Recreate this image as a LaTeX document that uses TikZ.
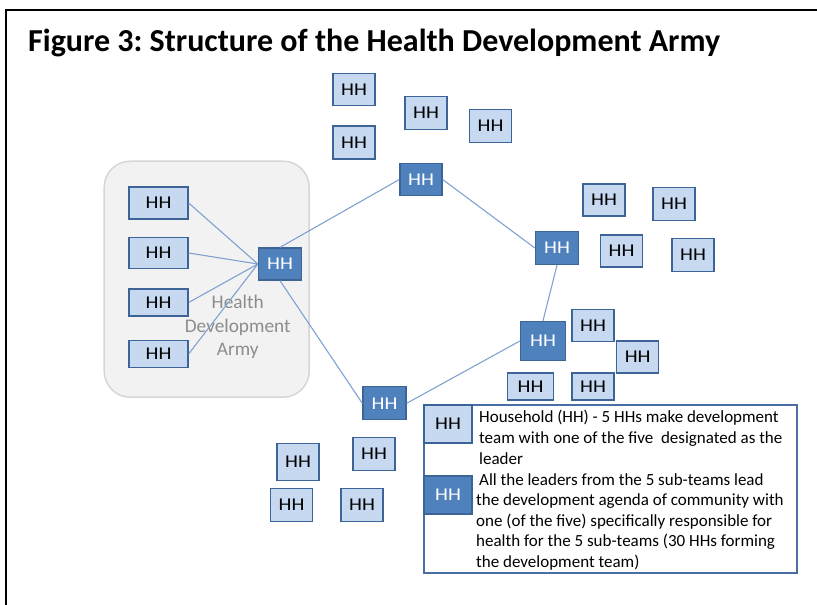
\documentclass[tikz,border=0pt]{standalone}
\usepackage{fontspec}
\setmainfont{Carlito}
\newfontfamily\calfont{Carlito}
\newfontfamily\hhfont[FakeStretch=1.15]{Carlito}
\frenchspacing
\definecolor{lightfill}{HTML}{C6D9F1}
\definecolor{darkfill}{HTML}{4F81BD}
\definecolor{boxborder}{HTML}{3D6496}
\definecolor{linkcol}{HTML}{7FA2D0}
\definecolor{graybg}{HTML}{F2F2F2}
\definecolor{grayline}{HTML}{D6D6D6}
\definecolor{graytext}{HTML}{8C8C8C}
\definecolor{legborder}{HTML}{4A6FA5}
\tikzset{
  hhbox/.style={draw=boxborder, line width=1.3pt, inner sep=0pt, font=\hhfont\fontsize{18}{18}\selectfont},
  lhh/.style={hhbox, fill=lightfill, text=black},
  dhh/.style={hhbox, fill=darkfill, text=white},
  sz/.style 2 args={minimum width=#1pt, minimum height=#2pt},
  link/.style={draw=linkcol, line width=1.1pt},
}
\begin{document}
\begin{tikzpicture}[x=1pt,y=-1pt]
\useasboundingbox (0,0) rectangle (817,605);
% frame
\draw[line width=1.8pt, black] (6,605) -- (6,9.7) -- (817,9.7);
% title
\node[anchor=base west, inner sep=0pt, font=\calfont\bfseries\fontsize{32}{32}\selectfont] (title) at (28,51) {Figure 3: Structure of the Health Development Army};
% gray group
\node[draw=grayline, fill=graybg, line width=1.5pt, rounded corners=26pt, minimum width=205pt, minimum height=236pt, inner sep=0pt] (group) at (206.7,279.2) {};
\node[align=center, text=graytext, font=\calfont\fontsize{19.3}{23.3}\selectfont, inner sep=0pt] (hdatext) at (237.7,327) {Health\\Development\\Army};
% left column
\node[lhh, sz={59}{32}] (L1) at (158.5,203) {HH};
\node[lhh, sz={59}{31}] (L2) at (158.5,253) {HH};
\node[lhh, sz={59}{27}] (L3) at (158.5,302.5) {HH};
\node[lhh, sz={59}{27}] (L4) at (158.5,354) {HH};
\node[dhh, sz={43}{32}] (lead) at (280,264) {HH};
% top group
\node[lhh, sz={42}{32}] (Ta) at (354,89.5) {HH};
\node[lhh, sz={42}{33}] (Tb) at (354,142.5) {HH};
\node[lhh, sz={42}{33}] (Tc) at (426,113) {HH};
\node[lhh, sz={42}{33}] (Td) at (490.5,126) {HH};
\node[dhh, sz={42}{32}] (top) at (421,179.5) {HH};
% right group
\node[lhh, sz={42}{32}] (R1) at (604,200) {HH};
\node[lhh, sz={42}{33}] (R2) at (674,204) {HH};
\node[dhh, sz={43}{33}] (right) at (557,248) {HH};
\node[lhh, sz={42}{32}] (R3) at (621.5,251) {HH};
\node[lhh, sz={42}{33}] (R4) at (693,254.7) {HH};
% lower right group
\node[dhh, sz={45}{39}] (lowr) at (543,341) {HH};
\node[lhh, sz={42}{32}] (LR1) at (593,325.5) {HH};
\node[lhh, sz={42}{32}] (LR2) at (637.7,357) {HH};
\node[lhh, sz={46}{27}] (LR3) at (530.5,386.5) {HH};
\node[lhh, sz={42}{27}] (LR4) at (593,386.5) {HH};
% bottom group
\node[dhh, sz={43}{33}] (bot) at (384.5,403.3) {HH};
\node[lhh, sz={42}{37}] (B1) at (298,461.7) {HH};
\node[lhh, sz={42}{33}] (B2) at (374,454) {HH};
\node[lhh, sz={42}{33}] (B3) at (291.5,505) {HH};
\node[lhh, sz={42}{33}] (B4) at (362,505) {HH};
% connectors
\draw[link] (L1.east) -- (lead.west);
\draw[link] (L2.east) -- (lead.west);
\draw[link] (L3.east) -- (lead.west);
\draw[link] (L4.east) -- (lead.west);
\draw[link] (lead.north) -- (top.west);
\draw[link] (top.east) -- (right.west);
\draw[link] (right.south) -- (lowr.north);
\draw[link] (lowr.west) -- (bot.east);
\draw[link] (lead.south) -- (bot.west);
% legend
\node[draw=legborder, line width=1.3pt, fill=white, minimum width=373pt, minimum height=168pt, inner sep=0pt] (legend) at (610.5,489) {};
\node[lhh, sz={48}{38}] (legL) at (448,424) {HH};
\node[dhh, sz={48}{38}] (legD) at (448,495) {HH};
\node[anchor=north west, align=left, inner sep=0pt, font=\calfont\fontsize{17}{20.7}\selectfont] (legtext1) at (479,410) {Household (HH) - 5 HHs make development\\team with one of the five\ \ designated as the\\leader};
\node[anchor=north west, align=left, inner sep=0pt, font=\calfont\fontsize{17}{20.5}\selectfont] (legtext2) at (476,473) {\hspace{3pt}All the leaders from the 5 sub-teams lead\\the development agenda of community with\\one (of the five) specifically responsible for\\health for the 5 sub-teams (30 HHs forming\\the development team)};
\end{tikzpicture}
\end{document}
